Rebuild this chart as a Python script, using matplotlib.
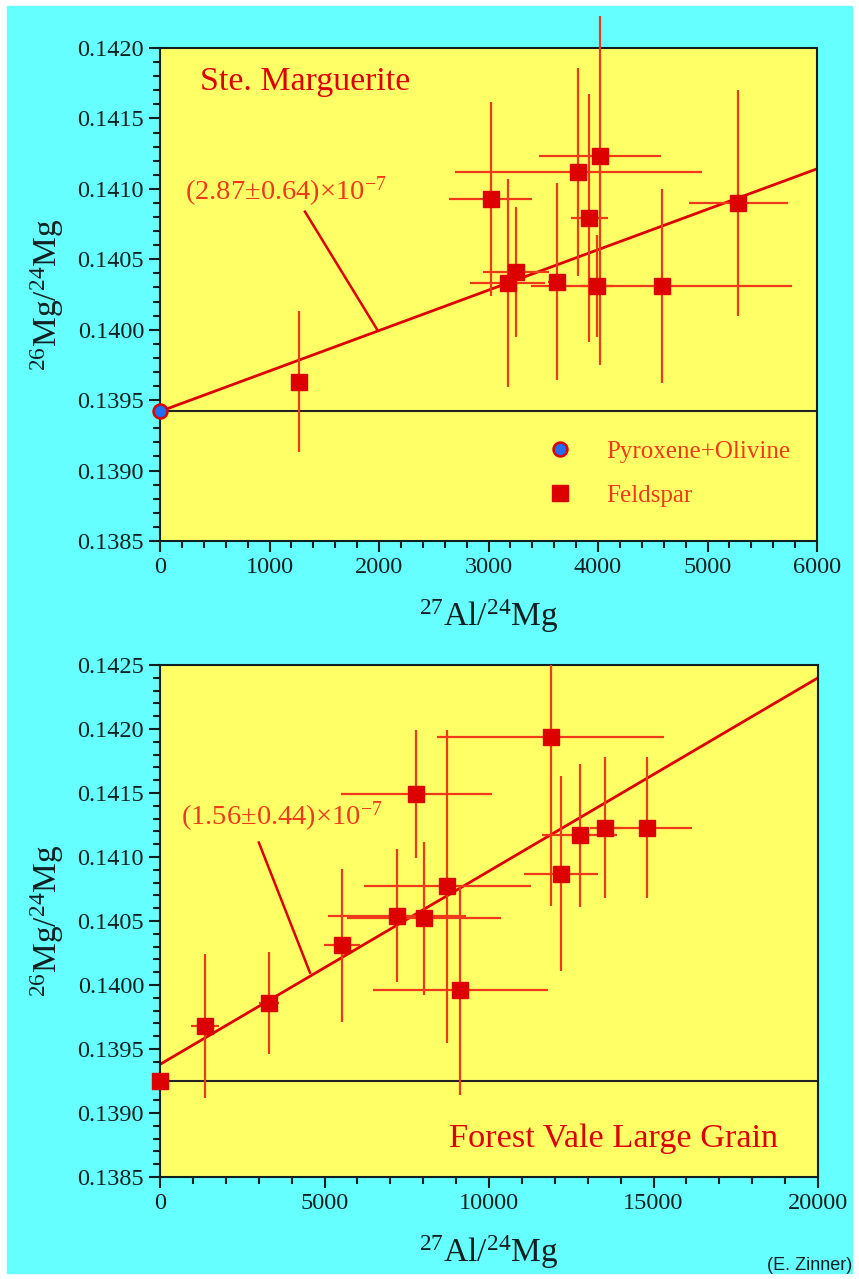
import numpy as np
import matplotlib.pyplot as plt
from matplotlib.patches import Rectangle
from matplotlib.ticker import MultipleLocator, FormatStrFormatter

plt.rcParams['font.family'] = ['Liberation Serif', 'DejaVu Serif']
plt.rcParams['mathtext.fontset'] = 'custom'
plt.rcParams['mathtext.rm'] = 'Liberation Serif'
plt.rcParams['mathtext.it'] = 'Liberation Serif:italic'

# Ste. Marguerite
pyr_x = [0]
pyr_y = [0.13942]
ste_x = [1270, 3020, 3175, 3248, 3622, 3820, 4018, 3921, 3988, 4581, 5281]
ste_y = [0.13963, 0.14093, 0.14033, 0.14041, 0.14034, 0.14112, 0.14123,
         0.14079, 0.14031, 0.14031, 0.14090]
ste_xerr = [0, 380, 345, 300, 80, 1130, 560, 168, 150, 1190, 450]
ste_yerr_lo = [0.0005, 0.00069, 0.00074, 0.00046, 0.0007, 0.00074, 0.00148,
               0.00088, 0.00036, 0.00069, 0.0008]
ste_yerr_hi = [0.0005, 0.00069, 0.00074, 0.00046, 0.0007, 0.00074, 0.0010,
               0.00088, 0.00036, 0.00069, 0.0008]
# isochron as drawn in the picture
ste_slope, ste_icpt = 2.87e-7, 0.13942

# Forest Vale
fv0_x = [0]
fv0_y = [0.13925]
fv_x = [1368, 3324, 5533, 7195, 8036, 7787, 8735, 9120, 11871, 12187, 12753, 13518, 14796]
fv_y = [0.13968, 0.13986, 0.14031, 0.14054, 0.14052, 0.14149, 0.14077,
        0.13996, 0.14194, 0.14087, 0.14117, 0.14123, 0.14123]
fv_xerr = [415, 300, 540, 2100, 2340, 2290, 2540, 2660, 3460, 1120, 1150, 450, 1380]
fv_yerr = [0.00056, 0.0004, 0.0006, 0.00052, 0.0006, 0.0005, 0.00122,
           0.00082, 0.00132, 0.00076, 0.00056, 0.00055, 0.00055]
fv_slope, fv_icpt = 1.51e-7, 0.13938

cyan = '#66ffff'
yellow = '#ffff66'
red = '#dd0000'
ered = '#ee3a1a'
tcol = '#102020'

fig = plt.figure(figsize=(8.59, 12.79), dpi=100, facecolor='white')
fig.patches.append(Rectangle((7/859, 6/1279), 845/859, 1267/1279,
                             transform=fig.transFigure, color=cyan, zorder=-10))

ax1 = fig.add_axes([160/859, 1-541/1279, 657/859, 493/1279])
ax2 = fig.add_axes([160/859, 1-1177/1279, 658/859, 512/1279])


def style(ax, xmax, xmaj, xmin, ymin, ymax):
    ax.set_facecolor(yellow)
    ax.set_xlim(0, xmax)
    ax.set_ylim(ymin, ymax)
    ax.xaxis.set_major_locator(MultipleLocator(xmaj))
    ax.xaxis.set_minor_locator(MultipleLocator(xmin))
    ax.yaxis.set_major_locator(MultipleLocator(0.0005))
    ax.yaxis.set_minor_locator(MultipleLocator(0.0001))
    ax.yaxis.set_major_formatter(FormatStrFormatter('%.4f'))
    ax.tick_params(which='both', direction='out', width=1.5, colors=tcol,
                   labelsize=17.5, top=False, right=False)
    ax.tick_params(which='major', length=8)
    ax.tick_params(which='minor', length=5)
    for s in ax.spines.values():
        s.set_linewidth(1.5)
        s.set_color(tcol)
    ax.set_xlabel('$^{27}$Al/$^{24}$Mg', fontsize=24, color=tcol, labelpad=14)
    ax.set_ylabel('$^{26}$Mg/$^{24}$Mg', fontsize=24, color=tcol)
    ax.yaxis.set_label_coords(-0.143, 0.5)


style(ax1, 6000, 1000, 200, 0.1385, 0.1420)
style(ax2, 20000, 5000, 1000, 0.1385, 0.1425)

# top panel
xs = np.array([0, 6000])
ax1.axhline(pyr_y[0], color='#222222', lw=1.5, zorder=2)
ax1.plot(xs, ste_icpt + ste_slope * xs, color=red, lw=2, zorder=2)
ax1.errorbar(ste_x, ste_y, xerr=ste_xerr, yerr=[ste_yerr_lo, ste_yerr_hi],
             fmt='none', ecolor=ered, elinewidth=1.6, capsize=0, zorder=3,
             clip_on=False)
ax1.plot(ste_x, ste_y, 's', ms=11, color=red, zorder=4, label='Feldspar')
ax1.plot(pyr_x, pyr_y, 'o', ms=10, mfc='#1f6ff0', mec=red, mew=1.8,
         zorder=5, clip_on=False, label='Pyroxene+Olivine')
ax1.text(365, 0.14176, 'Ste. Marguerite', fontsize=24.4, color=red, va='center')
ax1.text(228, 0.14098, '(2.87\u00b10.64)\u00d710$^{-7}$', fontsize=20.5,
         color=ered, va='center')
ax1.plot([1324, 1980], [0.140838, 0.140005], color=red, lw=1.8, zorder=2)
h, l = ax1.get_legend_handles_labels()
ax1.legend(h[::-1], l[::-1], loc='center left', bbox_to_anchor=(0.537, 0.137),
           frameon=False, fontsize=18, labelcolor=ered, handletextpad=0.85,
           labelspacing=0.85, markerscale=1.0)

# bottom panel
xs = np.array([0, 20000])
ax2.axhline(fv0_y[0], color='#222222', lw=1.5, zorder=2)
ax2.plot(xs, fv_icpt + fv_slope * xs, color=red, lw=2, zorder=2)
ax2.errorbar(fv_x, fv_y, xerr=fv_xerr, yerr=fv_yerr, fmt='none', ecolor=ered,
             elinewidth=1.6, capsize=0, zorder=3)
ax2.plot(fv_x, fv_y, 's', ms=11, color=red, zorder=4)
ax2.plot(fv0_x, fv0_y, 's', ms=11, color=red, zorder=5, clip_on=False)
ax2.text(18784, 0.13880, 'Forest Vale Large Grain', fontsize=24.7, color=red,
         ha='right', va='center')
ax2.text(650, 0.14131, '(1.56\u00b10.44)\u00d710$^{-7}$', fontsize=20.5,
         color=ered, va='center')
ax2.plot([3004, 4559], [0.141113, 0.140096], color=red, lw=1.8, zorder=2)

fig.text(852/859, 1-1266/1279, '(E. Zinner)', fontsize=13, family='Liberation Sans',
         color=tcol, ha='right', va='center')

fig.savefig('out.png', dpi=100, facecolor='white')
